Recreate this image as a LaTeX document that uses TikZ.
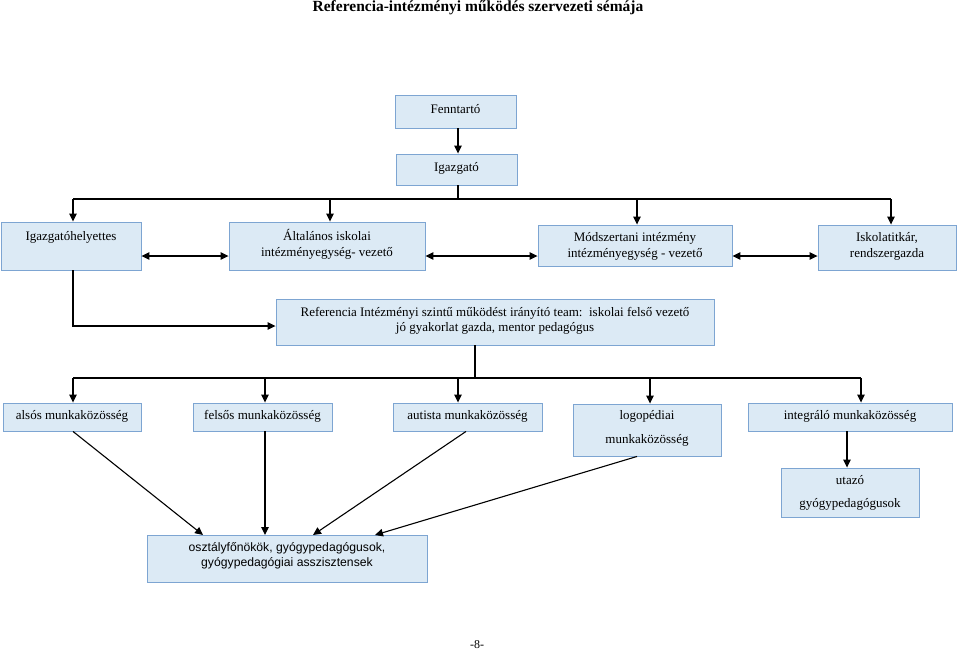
\documentclass[tikz,border=0pt]{standalone}
\usepackage{fontspec}
\setmainfont{Liberation Serif}
\newfontfamily\arialf{Liberation Sans}
\usetikzlibrary{arrows.meta,fit}
\definecolor{boxfill}{RGB}{220,234,245}
\definecolor{boxline}{RGB}{125,165,210}
\begin{document}
\begin{tikzpicture}[x=1pt,y=-1pt,
  box/.style={draw=boxline, fill=boxfill, line width=0.9pt, inner sep=0pt, fit={#1}},
  txt/.style={align=center, font=\fontsize{13}{15.5}\selectfont, inner sep=0pt},
  conn/.style={line width=1.1pt},
  arr/.style={conn, -{Triangle[length=8pt,width=7.5pt]}},
  darr/.style={conn, {Triangle[length=8pt,width=7.5pt]}-{Triangle[length=8pt,width=7.5pt]}}]
\fill[white] (0,0) rectangle (959,651);
\useasboundingbox (0,0) rectangle (959,651);

\node[font=\fontsize{15.5}{17}\selectfont\bfseries, inner sep=0pt] (title) at (478,8) {Referencia-intézményi működés szervezeti sémája};

% boxes
\node[box={(395,95) (516,128)}] (fen) {};
\node[txt] (fent) at (455.5,109.5) {Fenntartó};
\node[box={(396,154) (517,185)}] (igz) {};
\node[txt] (igzt) at (456.5,168.5) {Igazgató};

\node[box={(1,222) (141,270)}] (ih) {};
\node[txt] (iht) at (71,237) {Igazgatóhelyettes};
\node[box={(229,222) (425,270)}] (ai) {};
\node[txt] (ait) at (327,244.5) {Általános iskolai\\intézményegység- vezető};
\node[box={(538,225) (732,266)}] (mod) {};
\node[txt] (modt) at (635,246.5) {Módszertani intézmény\\intézményegység - vezető};
\node[box={(818,225) (956,270)}] (isk) {};
\node[txt] (iskt) at (887,246.5) {Iskolatitkár,\\rendszergazda};

\node[box={(276,299) (714,345)}] (ref) {};
\node[txt] (reft) at (495,321) {Referencia Intézményi szintű működést irányító team:\ \ iskolai felső vezető\\jó gyakorlat gazda, mentor pedagógus};

\node[box={(3,403) (141,431)}] (als) {};
\node[txt] (alst) at (72,416) {alsós munkaközösség};
\node[box={(193,403) (332,431)}] (fel) {};
\node[txt] (felt) at (262.5,416) {felsős munkaközösség};
\node[box={(393,403) (542,431)}] (aut) {};
\node[txt] (autt) at (467.5,416) {autista munkaközösség};
\node[box={(573,404) (721,456)}] (log) {};
\node[txt] (logt) at (647,428) {logopédiai\\[8.5pt]munkaközösség};
\node[box={(748,403) (952,431)}] (int) {};
\node[txt] (intt) at (850,416) {integráló munkaközösség};
\node[box={(781,468) (919,517)}] (uta) {};
\node[txt] (utat) at (850,492.5) {utazó\\[7.5pt]gyógypedagógusok};

\node[box={(147,535) (427,582)}] (osz) {};
\node[txt, font=\arialf\fontsize{12.2}{15}\selectfont] (oszt) at (287,555.5) {osztályfőnökök, gyógypedagógusok,\\gyógypedagógiai asszisztensek};

\node[txt, font=\fontsize{12}{14}\selectfont] (page) at (477,645) {-8-};

% connectors
\draw[arr] (fen.south -| 458,0) -- (igz.north -| 458,0);
\coordinate (b1L) at (73,199);
\coordinate (b1R) at (891,199);
\draw[conn] (igz.south -| 458,0) -- (b1L -| 458,0);
\draw[conn] (b1L) -- (b1R);
\draw[arr] (b1L) -- (ih.north -| b1L);
\draw[arr] (b1L -| 330,0) -- (ai.north -| 330,0);
\draw[arr] (b1L -| 637,0) -- (mod.north -| 637,0);
\draw[arr] (b1R) -- (isk.north -| b1R);

\coordinate (dy) at (0,256);
\draw[darr] (ih.east |- dy) -- (ai.west |- dy);
\draw[darr] (ai.east |- dy) -- (mod.west |- dy);
\draw[darr] (mod.east |- dy) -- (isk.west |- dy);

\coordinate (ry) at (0,326);
\draw[arr] (ih.south -| b1L) -- (b1L |- ry) -- (ref.west |- ry);

\coordinate (b2L) at (73,378);
\coordinate (b2R) at (861,378);
\coordinate (rx) at (475,0);
\draw[conn] (ref.south -| rx) -- (b2L -| rx);
\draw[conn] (b2L) -- (b2R);
\draw[arr] (b2L) -- (als.north -| b2L);
\draw[arr] (b2L -| 265,0) -- (fel.north -| 265,0);
\draw[arr] (b2L -| 458,0) -- (aut.north -| 458,0);
\draw[arr] (b2L -| 650,0) -- (log.north -| 650,0);
\draw[arr] (b2R) -- (int.north -| b2R);

\draw[arr] (int.south -| 847,0) -- (uta.north -| 847,0);

\coordinate (o1) at (203,535);
\coordinate (o2) at (265,535);
\coordinate (o3) at (313,535);
\coordinate (o4) at (375,535);
\draw[arr] (als.south -| 73,0) -- (o1);
\draw[arr] (fel.south -| 265,0) -- (o2);
\draw[arr] (aut.south -| 466,0) -- (o3);
\draw[arr] (log.south -| 637,0) -- (o4);
\end{tikzpicture}
\end{document}
